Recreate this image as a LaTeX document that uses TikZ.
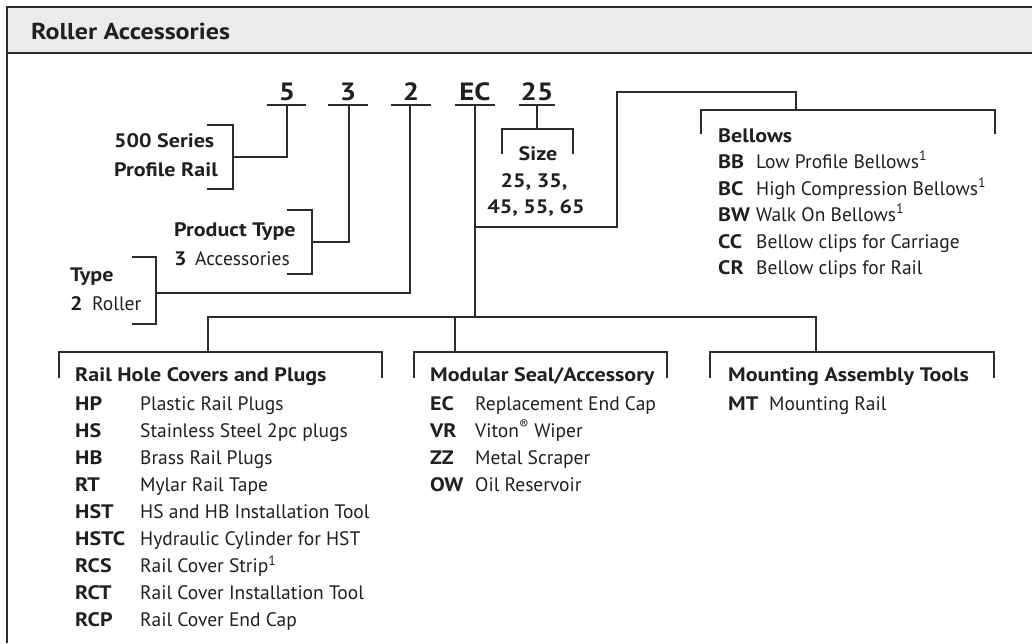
\documentclass[tikz,border=0pt]{standalone}
\usepackage{fontspec}
\setmainfont{PT Sans}[BoldFeatures={FakeStretch=1.13}]
\newfontfamily\digf{PT Sans}[FakeStretch=1.15]
\definecolor{tc}{HTML}{231F20}
\definecolor{lc}{HTML}{2B2B2B}
\definecolor{hdr}{HTML}{EBEBEB}
\newcommand\myfs{\fontsize{19.5}{22}\selectfont}
\newcommand\mysup{\textsuperscript{1}}
\begin{document}
\begin{tikzpicture}[x=1pt,y=-1pt,
  ln/.style={draw=lc,line width=1.25pt},
  t/.style={inner sep=0pt,anchor=base west,text=tc,font=\myfs},
  tb/.style={t,font=\myfs\bfseries},
  dig/.style={inner sep=0pt,anchor=base,text=tc,font=\digf\fontsize{25}{25}\selectfont\bfseries},
]
\useasboundingbox (0,0) rectangle (1032,643);
\fill[white] (0,0) rectangle (1032,643);
% frame and header
\fill[hdr] (7,7) rectangle (1032,53);
\draw[lc,line width=1.2pt] (7,53) -- (1032,53);
\draw[lc,line width=2pt] (1032,7) -- (7,7) -- (7,643);
\node[tb,font=\fontsize{23}{26}\selectfont\bfseries] (title) at (31,39) {Roller Accessories};

% part number digits
\node[dig] (d5) at (287,100) {5};
\node[dig] (d3) at (348,100) {3};
\node[dig] (d2) at (411,100) {2};
\node[dig] (dEC) at (475,100) {EC};
\node[dig] (d25) at (537,100) {25};
\coordinate (u5) at (287,105);
\coordinate (u3) at (349,105);
\coordinate (u2) at (410,105);
\coordinate (uEC) at (475,105);
\coordinate (u25) at (537,105);
\draw[ln] (267,105) -- (306,105);
\draw[ln] (328,105) -- (368,105);
\draw[ln] (391,105) -- (431,105);
\draw[ln] (455,105) -- (495,105);
\draw[ln] (519,105) -- (555,105);

% 500 series
\node[tb] (ser1) at (114,147) {500 Series};
\node[tb] (ser2) at (114,176) {Profile Rail};
\coordinate (b5) at (233,157);
\draw[ln] (u5) -- (u5 |- b5) -- (b5);
\draw[ln] (207,125) -- (233,125) -- (233,189) -- (207,189);

% product type
\node[tb] (pt1) at (174,236) {Product Type};
\node[tb] (pt2) at (174,265) {3};
\node[t] (pt3) at (195,265) {Accessories};
\coordinate (b3) at (312,242);
\draw[ln] (u3) -- (u3 |- b3) -- (b3);
\draw[ln] (287,210) -- (312,210) -- (312,274) -- (287,274);

% type
\node[tb] (ty1) at (70,281) {Type};
\node[tb] (ty2) at (70,310) {2};
\node[t] (ty3) at (92,310) {Roller};
\coordinate (b2) at (156,293);
\draw[ln] (u2) -- (u2 |- b2) -- (b2);
\draw[ln] (132,257) -- (156,257) -- (156,324) -- (132,324);

% size
\coordinate (bs) at (537,129);
\draw[ln] (u25) -- (bs);
\draw[ln] (502,154) -- (502,129) -- (573,129) -- (573,154);
\node[tb,anchor=base] (sz1) at (538,160) {Size};
\node[tb,anchor=base] (sz2) at (534,187) {25, 35,};
\node[tb,anchor=base] (sz3) at (536,213) {45, 55, 65};

% bellows branch
\coordinate (bus) at (475,317);
\coordinate (bb) at (796,110);
\draw[ln] (uEC) -- (bus);
\draw[ln] (475,227) -- (617,227) -- (617,92) -- (796,92) -- (bb);
\draw[ln] (701,134) -- (701,110) -- (995,110) -- (995,134);
\node[tb] (bel) at (718,142) {Bellows};
\node[tb] (bBB) at (718,168) {BB};
\node[t] at (756,168) {Low Profile Bellows\mysup};
\node[tb] (bBC) at (718,195) {BC};
\node[t] at (756,195) {High Compression Bellows\mysup};
\node[tb] (bBW) at (718,221) {BW};
\node[t] at (756,221) {Walk On Bellows\mysup};
\node[tb] (bCC) at (718,248) {CC};
\node[t] at (756,248) {Bellow clips for Carriage};
\node[tb] (bCR) at (718,274) {CR};
\node[t] at (756,274) {Bellow clips for Rail};

% bottom bus
\draw[ln] (208,352) -- (208,317) -- (816,317) -- (816,352);
\draw[ln] (455,317) -- (455,352);
\draw[ln] (59,378) -- (59,352) -- (382,352) -- (382,378);
\draw[ln] (414,378) -- (414,352) -- (667,352) -- (667,378);
\draw[ln] (710,378) -- (710,352) -- (994,352) -- (994,378);

% rail hole covers
\node[tb] (rh) at (75,381) {Rail Hole Covers and Plugs};
\foreach \c/\d [count=\i from 0] in {HP/Plastic Rail Plugs,HS/Stainless Steel 2pc plugs,HB/Brass Rail Plugs,RT/Mylar Rail Tape,HST/HS and HB Installation Tool,HSTC/Hydraulic Cylinder for HST,RCS/Rail Cover Strip\mysup,RCT/Rail Cover Installation Tool,RCP/Rail Cover End Cap}{
  \node[tb] (rc\i) at (75,410+27.1*\i) {\c};
  \node[t] (rd\i) at (140,410+27.1*\i) {\d};
}

% modular seal
\node[tb] (ms) at (430,381) {Modular Seal/Accessory};
\foreach \c/\d [count=\i from 0] in {EC/Replacement End Cap,VR/Viton\textsuperscript{®} Wiper,ZZ/Metal Scraper,OW/Oil Reservoir}{
  \node[tb] (mc\i) at (430,410+27.1*\i) {\c};
  \node[t] (md\i) at (475,410+27.1*\i) {\d};
}

% mounting
\node[tb] (mat) at (728,381) {Mounting Assembly Tools};
\node[tb] (mt) at (728,410) {MT};
\node[t] (mtd) at (769,410) {Mounting Rail};
\end{tikzpicture}
\end{document}
